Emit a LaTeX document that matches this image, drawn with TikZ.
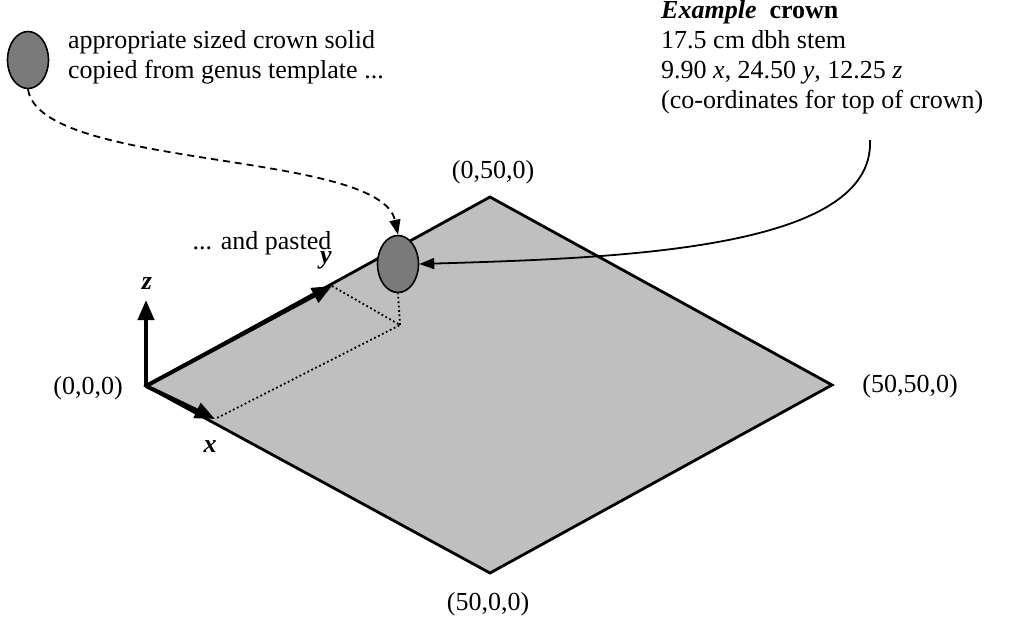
\documentclass[tikz,border=0pt]{standalone}
\usepackage{fontspec}
\setmainfont{Liberation Serif}
\usetikzlibrary{arrows.meta,shapes.geometric}
\begin{document}
\begin{tikzpicture}[x=1pt,y=-1pt,
  crown/.style={draw,line width=1.6pt,fill=black!52,ellipse,minimum width=41pt,minimum height=57pt,inner sep=0pt},
  lbl/.style={font=\fontsize{26}{30}\selectfont,inner sep=0pt},
  ax/.style={line width=4pt,-{Triangle[length=20pt,width=16pt]}},
  dot/.style={line width=1.8pt,dash pattern=on 1.8pt off 2.6pt},
  con/.style={line width=1.8pt,-{Triangle[length=15pt,width=11pt]}}]
\useasboundingbox (0,0) rectangle (1024,621);
\coordinate (L) at (146,386); \coordinate (T) at (490,197);
\coordinate (R) at (832,385); \coordinate (B) at (490,573);
\fill[black!25] (L)--(T)--(R)--(B)--cycle;
\draw[line width=2.8pt,line join=miter] (L)--(T)--(R)--(B)--cycle;
\node[crown] (c1) at (28,60) {};
\node[crown] (c2) at (398,264) {};
\coordinate (ya) at (332,286); \coordinate (xa) at (215,419);
\coordinate (za) at (146,300); \coordinate (g) at (400,325);
\draw[dot] (ya)--(g)--(xa); \draw[dot] (g)--(c2.south);
\draw[ax] (L)--(ya); \draw[ax] (L)--(xa); \draw[ax] (L)--(za);
\node[lbl] (zl) at (147,284) {\itshape\bfseries z};
\node[lbl] (yl) at (326,260) {\itshape\bfseries y};
\node[lbl] (xl) at (210,447) {\itshape\bfseries x};
\node[lbl] (o) at (88,388) {(0,0,0)};
\node[lbl] (p1) at (493,172) {(0,50,0)};
\node[lbl] (p2) at (910,386) {(50,50,0)};
\node[lbl] (p3) at (488,604) {(50,0,0)};
\node[lbl] (pa) at (262,243) {... and pasted};
\node[lbl,anchor=north west,align=left] (t1) at (68,30) {appropriate sized crown solid\\copied from genus template ...};
\node[lbl,anchor=north west,align=left] (t2) at (661,0) {\textbf{\textit{Example}\ \ crown}\\17.5 cm dbh stem\\9.90 \textit{x}, 24.50 \textit{y}, 12.25 \textit{z}\\(co-ordinates for top of crown)};
\coordinate (s2) at (870,140);
\draw[con,dash pattern=on 7pt off 5pt] (c1.south) .. controls (40,170) and (380,150) .. (c2.north);
\draw[con] (s2) .. controls (875,250) and (620,258) .. (c2.east);
\end{tikzpicture}
\end{document}
